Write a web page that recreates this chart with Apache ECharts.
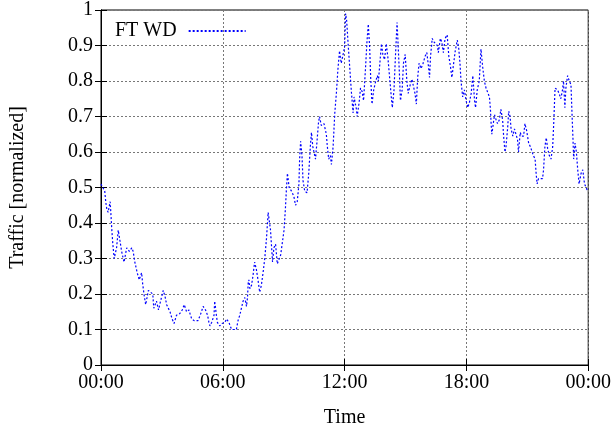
<!DOCTYPE html>
<html>
<head>
<meta charset="utf-8">
<script src="https://cdn.jsdelivr.net/npm/echarts@6/dist/echarts.min.js"></script>
<style>html,body{margin:0;padding:0;background:#fff}#c{width:614px;height:433px}</style>
</head>
<body>
<div id="c"></div>
<script>
var seriesName = 'FT WD';
var xTickLabels = ['00:00', '06:00', '12:00', '18:00', '00:00'];
var timeMinutes = [0,5,11,14,17,21,27,29,32,35,39,46,51,56,61,68,76,84,91,95,100,107,113,120,123,127,132,140,145,153,156,164,170,176,184,190,194,199,204,210,216,223,233,240,246,253,260,263,268,275,287,295,302,305,309,315,319,322,327,334,336,338,341,344,351,358,366,371,378,386,393,400,405,410,415,420,425,430,433,435,437,440,445,449,454,459,464,469,474,479,484,489,492,494,497,501,504,507,511,516,521,526,531,536,541,545,548,551,556,563,570,575,580,585,587,590,594,597,602,609,614,619,622,626,634,638,643,646,651,659,666,669,673,678,681,686,691,696,700,705,710,715,720,723,726,730,735,740,745,748,750,755,757,763,767,772,776,782,786,790,794,797,801,806,812,817,820,825,829,833,838,843,848,853,858,861,866,870,875,878,882,885,890,894,899,904,908,914,919,924,928,932,936,940,946,952,958,963,968,971,974,979,984,989,994,997,1003,1007,1012,1017,1023,1028,1033,1037,1043,1047,1053,1057,1061,1064,1069,1074,1079,1084,1089,1094,1099,1104,1107,1112,1118,1123,1128,1133,1138,1143,1148,1151,1153,1155,1158,1163,1168,1172,1177,1182,1187,1190,1194,1197,1202,1205,1209,1212,1217,1222,1227,1231,1234,1239,1243,1249,1253,1258,1264,1269,1274,1278,1283,1286,1289,1293,1298,1305,1308,1312,1316,1320,1325,1330,1335,1338,1342,1345,1349,1354,1359,1364,1367,1371,1374,1379,1384,1389,1392,1395,1397,1401,1405,1409,1413,1419,1424,1429,1434,1438,1440];
var traffic = [.51,.51,.49,.46,.44,.43,.46,.43,.38,.34,.30,.33,.38,.35,.32,.29,.33,.32,.33,.32,.29,.26,.24,.26,.23,.20,.17,.21,.21,.20,.16,.18,.155,.18,.21,.19,.17,.16,.15,.13,.117,.14,.145,.155,.17,.15,.155,.145,.13,.125,.125,.145,.165,.17,.155,.14,.12,.11,.12,.14,.18,.165,.14,.12,.11,.117,.12,.13,.12,.10,.10,.10,.125,.14,.16,.18,.19,.165,.19,.23,.24,.215,.225,.25,.29,.27,.24,.205,.225,.26,.30,.355,.40,.43,.435,.38,.335,.29,.33,.34,.285,.28,.31,.345,.38,.44,.495,.54,.50,.49,.475,.45,.46,.51,.58,.63,.59,.52,.49,.485,.54,.62,.655,.615,.58,.625,.685,.70,.675,.68,.65,.615,.58,.59,.565,.615,.71,.77,.83,.885,.85,.85,.895,.99,.97,.91,.84,.77,.71,.755,.76,.72,.70,.74,.78,.77,.745,.84,.91,.96,.895,.81,.735,.775,.80,.815,.80,.86,.905,.875,.86,.905,.865,.81,.755,.725,.775,.865,.965,.905,.82,.745,.775,.85,.875,.80,.765,.79,.805,.80,.765,.735,.81,.85,.835,.85,.87,.88,.84,.81,.87,.92,.91,.905,.90,.88,.92,.91,.88,.92,.93,.87,.84,.81,.855,.885,.915,.895,.85,.80,.755,.775,.745,.725,.74,.765,.815,.745,.725,.775,.80,.89,.84,.80,.78,.78,.755,.72,.68,.65,.67,.705,.69,.68,.69,.72,.69,.645,.60,.615,.67,.715,.70,.665,.645,.665,.66,.635,.60,.655,.645,.645,.68,.66,.625,.615,.61,.59,.58,.54,.51,.525,.525,.525,.55,.615,.64,.61,.59,.58,.615,.68,.78,.785,.775,.765,.75,.775,.80,.725,.78,.815,.80,.79,.71,.635,.58,.625,.60,.55,.51,.54,.55,.51,.50,.49,.49];

var FONT = 'Liberation Serif';
var chart = echarts.init(document.getElementById('c'), null, {renderer: 'canvas'});
var pairs = timeMinutes.map(function (t, i) { return [t, traffic[i]]; });
function xLabel(v) { return xTickLabels[Math.round(v / 360)]; }
var gridLine = {show: true, lineStyle: {color: '#777', type: [2, 2], width: 1}};
var tickIn = {show: true, inside: true, length: 6, lineStyle: {color: '#000'}};
var common = {min: 0, max: 1440, interval: 360};
chart.setOption({
  animation: false,
  grid: {left: 101, top: 9, right: 25, bottom: 66, show: true, borderColor: '#000', borderWidth: 1},
  legend: {
    show: true, left: 110, top: 16, align: 'right', itemWidth: 57, itemHeight: 10,
    itemStyle: {opacity: 0},
    textStyle: {fontFamily: FONT, fontSize: 20, color: '#000', padding: [0, 7, 0, 0]},
    data: [seriesName]
  },
  xAxis: [
    Object.assign({type: 'value', position: 'bottom', name: 'Time', nameLocation: 'middle', nameGap: 43,
      nameTextStyle: {fontFamily: FONT, fontSize: 20, color: '#000'},
      axisLine: {show: true, lineStyle: {color: '#000'}}, axisTick: tickIn, splitLine: gridLine,
      axisLabel: {formatter: xLabel, fontFamily: FONT, fontSize: 20, color: '#000', margin: 8}}, common),
    Object.assign({type: 'value', position: 'top', axisLine: {show: true, lineStyle: {color: '#000'}},
      axisTick: tickIn, axisLabel: {show: false}, splitLine: {show: false}}, common)
  ],
  yAxis: [
    {type: 'value', min: 0, max: 1, interval: 0.1, position: 'left', name: 'Traffic [normalized]',
      nameLocation: 'middle', nameGap: 73, nameTextStyle: {fontFamily: FONT, fontSize: 20, color: '#000'},
      axisLine: {show: true, lineStyle: {color: '#000'}}, axisTick: tickIn, splitLine: gridLine,
      axisLabel: {fontFamily: FONT, fontSize: 20, color: '#000', margin: 8}},
    {type: 'value', min: 0, max: 1, interval: 0.1, position: 'right',
      axisLine: {show: true, lineStyle: {color: '#000'}}, axisTick: tickIn, axisLabel: {show: false}, splitLine: {show: false}}
  ],
  series: [{
    name: seriesName, type: 'line', xAxisIndex: 0, yAxisIndex: 0, data: pairs,
    showSymbol: false, symbol: 'none',
    lineStyle: {color: '#0000ff', width: 1.2, type: [2, 2]},
    itemStyle: {color: '#0000ff'}
  }]
});
</script>
</body>
</html>
